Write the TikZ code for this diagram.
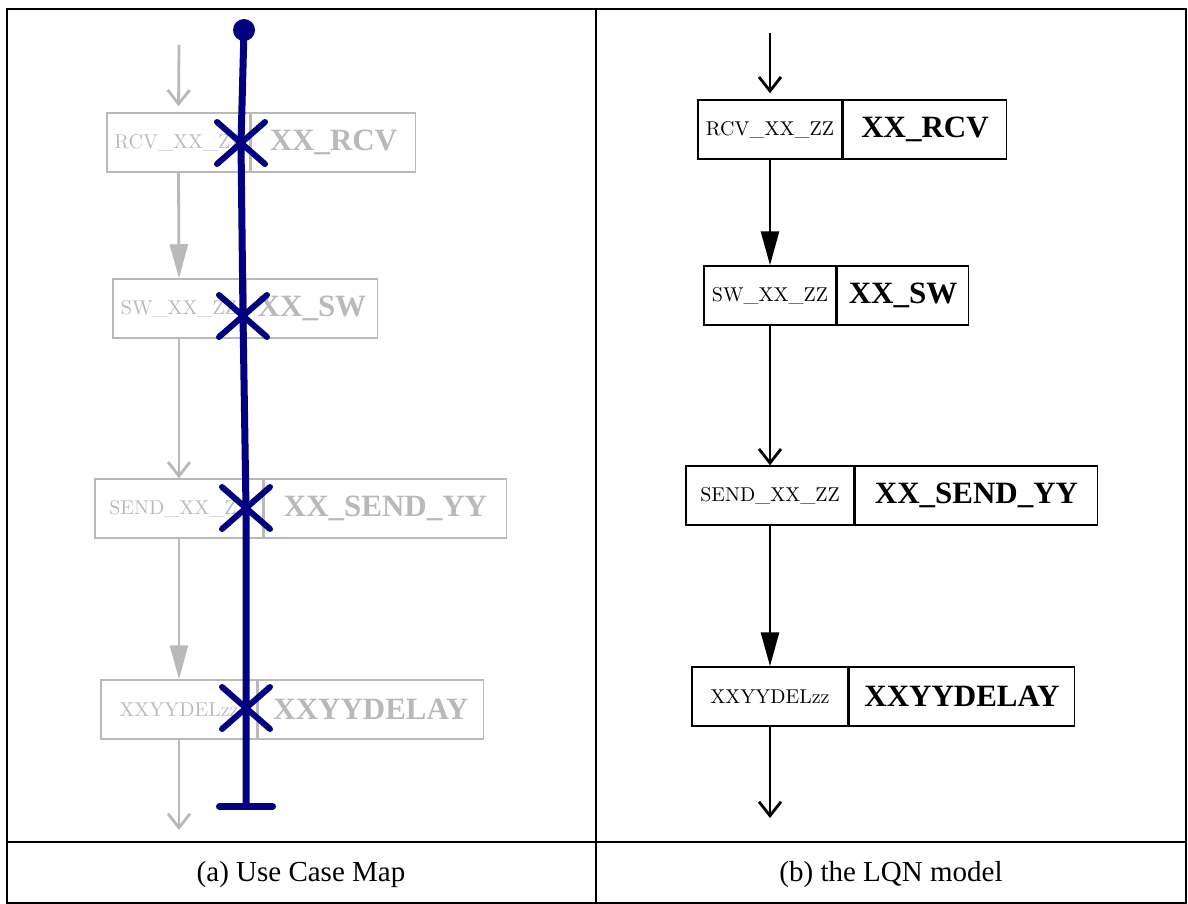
\documentclass[tikz,border=0pt]{standalone}
\usepackage{fontspec}
\usepackage{tikz}
\usetikzlibrary{arrows.meta,positioning,shapes.misc}
\newfontfamily\namefont{Liberation Serif}
\definecolor{ucmblue}{RGB}{0,0,128}
\definecolor{fadegray}{RGB}{185,185,185}

\begin{document}
\begin{tikzpicture}[x=0.5pt, y=-0.5pt,
    entry/.style={draw, minimum height=29.5pt, inner sep=0pt, font=\fontsize{10}{12}\selectfont},
    task/.style={draw, minimum height=29.5pt, inner sep=0pt, font=\namefont\bfseries\fontsize{15.5}{18}\selectfont},
    faded/.style={draw=fadegray, text=fadegray, line width=0.75pt},
    solid/.style={draw=black, text=black, line width=0.75pt},
    reply/.style={-{Straight Barb[length=7pt, width=11pt]}, line width=1.4pt},
    call/.style={-{Triangle[length=17pt, width=9pt]}, line width=1.4pt},
    respx/.style={cross out, draw=ucmblue, line width=3pt, line cap=round, minimum width=21pt, minimum height=18pt, inner sep=0pt},
    ucmpath/.style={draw=ucmblue, line width=3.5pt, line cap=round, -{Bar[width=26.5pt, round]}},
    caption/.style={font=\namefont\fontsize{14.5}{17}\selectfont}
]
\useasboundingbox (0,0) rectangle (1188,904);

% (a) use case map: faded LQN underneath
\node[entry, faded, minimum width=71.5pt] (urcv) at (178.5,142.5) {RCV\_XX\_ZZ};
\node[task, faded, minimum width=82pt, right=0pt of urcv] (urcvt) {XX\_RCV};
\node[entry, faded, minimum width=66pt] (usw) at (179,308.5) {SW\_XX\_ZZ};
\node[task, faded, minimum width=65.5pt, right=0pt of usw] (uswt) {XX\_SW};
\node[entry, faded, minimum width=84pt] (usend) at (179,508.5) {SEND\_XX\_ZZ};
\node[task, faded, minimum width=121pt, right=0pt of usend] (usendt) {XX\_SEND\_YY};
\node[entry, faded, minimum width=78pt] (udel) at (179,709.5) {XXYYDELzz};
\node[task, faded, minimum width=112.5pt, right=0pt of udel] (udelt) {XXYYDELAY};

\coordinate (uin) at (179,45);
\coordinate (uout) at (179,830);
\draw[reply, fadegray, shorten >=3pt] (uin) -- (urcv.north);
\draw[call, fadegray] (urcv.south) -- (usw.north);
\draw[reply, fadegray] (usw.south) -- (usend.north);
\draw[call, fadegray] (usend.south) -- (udel.north);
\draw[reply, fadegray] (udel.south) -- (uout);

% the path itself
\node[circle, fill=ucmblue, minimum size=11pt, inner sep=0pt] (ustart) at (244,30) {};
\node[respx] (x1) at (241,143) {};
\node[respx] (x2) at (243,316) {};
\node[respx] (x3) at (246,508) {};
\node[respx] (x4) at (246,708) {};
\coordinate (uend) at (246,810);
\draw[ucmpath] (ustart.center) -- (x1.center) -- (x2.center) -- (x3.center) -- (x4.center) -- (uend);

% (b) LQN model
\node[entry, solid, minimum width=72pt] (lrcv) at (770,129.5) {RCV\_XX\_ZZ};
\node[task, solid, minimum width=81.5pt, right=0pt of lrcv] (lrcvt) {XX\_RCV};
\node[entry, solid, minimum width=66pt] (lsw) at (770,295.5) {SW\_XX\_ZZ};
\node[task, solid, minimum width=65.5pt, right=0pt of lsw] (lswt) {XX\_SW};
\node[entry, solid, minimum width=84pt] (lsend) at (770,495.5) {SEND\_XX\_ZZ};
\node[task, solid, minimum width=121pt, right=0pt of lsend] (lsendt) {XX\_SEND\_YY};
\node[entry, solid, minimum width=78pt] (ldel) at (770,696.5) {XXYYDELzz};
\node[task, solid, minimum width=112.5pt, right=0pt of ldel] (ldelt) {XXYYDELAY};

\coordinate (lin) at (770,33);
\coordinate (lout) at (770,818);
\draw[reply, shorten >=3pt] (lin) -- (lrcv.north);
\draw[call] (lrcv.south) -- (lsw.north);
\draw[reply] (lsw.south) -- (lsend.north);
\draw[call] (lsend.south) -- (ldel.north);
\draw[reply] (ldel.south) -- (lout);

% frame and captions
\draw[line width=1pt] (7,9) rectangle (1186,903);
\draw[line width=1pt] (596,9) -- (596,903);
\draw[line width=1pt] (7,842) -- (1186,842);
\node[caption] (capa) at (301,875) {(a) Use Case Map};
\node[caption] (capb) at (891,875) {(b) the LQN model};
\end{tikzpicture}
\end{document}
